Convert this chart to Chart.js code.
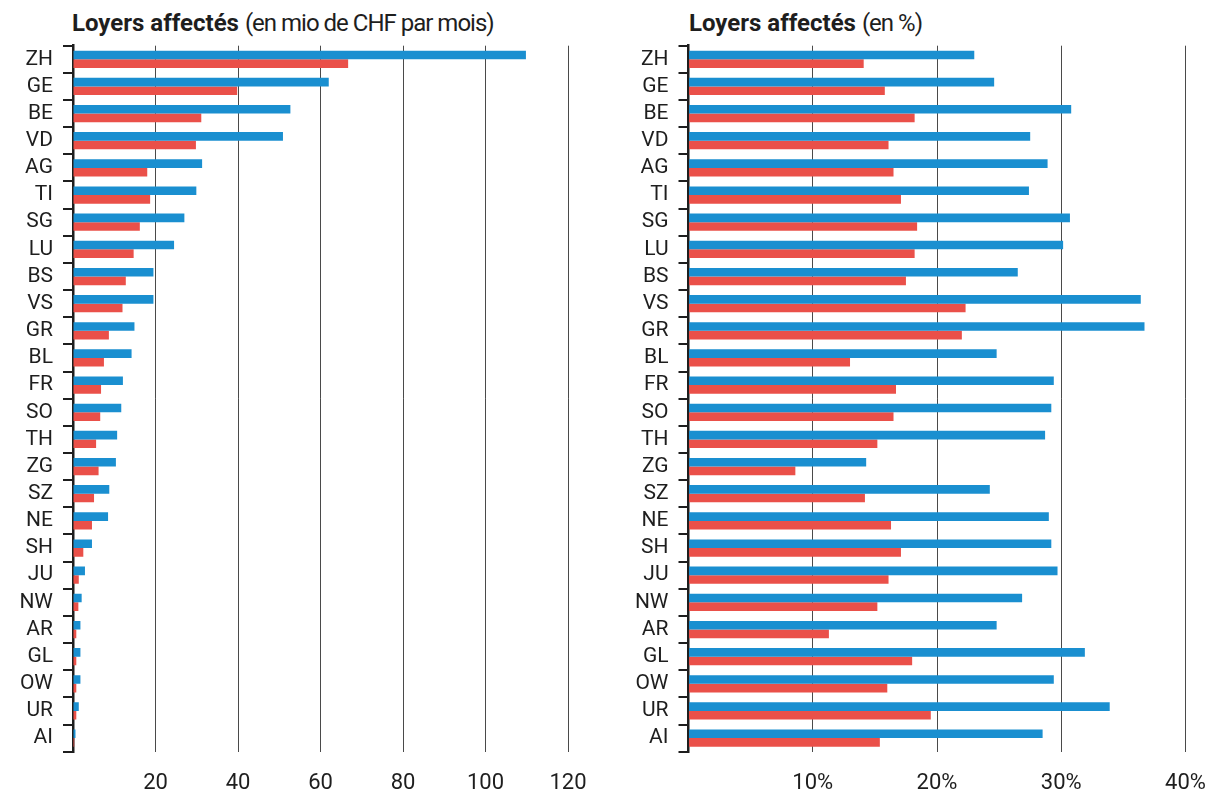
<!DOCTYPE html>
<html>
<head>
<meta charset="utf-8">
<script src="https://cdn.jsdelivr.net/npm/chart.js@4"></script>
<style>
  html, body { margin: 0; padding: 0; background: #fff; }
  body { width: 1213px; height: 791px; position: relative; overflow: hidden; font-family: Roboto, "Liberation Sans", sans-serif; color: #1e1e1e; }
  .title { position: absolute; top: 8px; font-size: 24px; white-space: nowrap; line-height: 30px; }
  .title b { font-weight: 700; letter-spacing: 0px; }
  .title span { font-weight: 400; letter-spacing: -1px; }
  canvas { position: absolute; top: 0; }
</style>
</head>
<body>
<div class="title" style="left:72px"><b>Loyers affectés</b> <span>(en mio de CHF par mois)</span></div>
<div class="title" style="left:689px"><b>Loyers affectés</b> <span>(en %)</span></div>
<canvas id="left" width="600" height="791" style="left:0px"></canvas>
<canvas id="right" width="607" height="791" style="left:606px"></canvas>
<script>
const cantons = ["ZH","GE","BE","VD","AG","TI","SG","LU","BS","VS","GR","BL","FR","SO","TH","ZG","SZ","NE","SH","JU","NW","AR","GL","OW","UR","AI"];

// Loyers affectés, en mio de CHF par mois
const mioBlue = [109.8, 62.0, 52.7, 50.9, 31.3, 29.9, 27.0, 24.5, 19.5, 19.5, 14.9, 14.2, 12.1, 11.7, 10.7, 10.4, 8.8, 8.5, 4.6, 2.9, 2.1, 1.8, 1.8, 1.8, 1.4, 0.6];
const mioRed  = [66.7, 39.8, 31.1, 29.8, 18.0, 18.7, 16.2, 14.7, 12.8, 12.0, 8.7, 7.5, 6.8, 6.6, 5.6, 6.2, 5.1, 4.6, 2.5, 1.4, 1.3, 0.8, 0.8, 0.8, 0.8, 0.3];

// Loyers affectés, en %
const pctBlue = [23.0, 24.6, 30.8, 27.5, 28.9, 27.4, 30.7, 30.15, 26.5, 36.4, 36.7, 24.8, 29.4, 29.2, 28.7, 14.3, 24.25, 29.0, 29.2, 29.7, 26.85, 24.8, 31.9, 29.4, 33.9, 28.5];
const pctRed  = [14.1, 15.8, 18.2, 16.1, 16.5, 17.1, 18.4, 18.2, 17.5, 22.3, 22.0, 13.0, 16.7, 16.5, 15.2, 8.6, 14.2, 16.3, 17.1, 16.1, 15.2, 11.3, 18.0, 16.0, 19.5, 15.4];

const mioTicks = { max: 120, step: 20, suffix: "" };
const pctTicks = { max: 40, step: 10, suffix: "%" };

const BLUE = "#1a8fd0";
const RED = "#ea5049";
const DARK = "#1e1e1e";

function makeChart(id, blue, red, tk, yWidth, padRight) {
  return new Chart(document.getElementById(id), {
    type: "bar",
    data: {
      labels: cantons,
      datasets: [
        { data: blue, backgroundColor: BLUE, borderWidth: 0 },
        { data: red, backgroundColor: RED, borderWidth: 0 }
      ]
    },
    options: {
      indexAxis: "y",
      responsive: false,
      animation: false,
      devicePixelRatio: 1,
      categoryPercentage: 0.635,
      barPercentage: 1,
      layout: { padding: { top: 45.7, right: padRight, bottom: 0, left: 0 } },
      plugins: { legend: { display: false }, tooltip: { enabled: false }, title: { display: false } },
      scales: {
        x: {
          type: "linear",
          min: 0,
          max: tk.max,
          border: { display: false },
          grid: { color: "#4a4a4a", lineWidth: 1, drawTicks: false },
          ticks: {
            stepSize: tk.step,
            autoSkip: false,
            maxRotation: 0,
            padding: 19,
            color: DARK,
            font: { family: "Roboto", size: 22 },
            callback: (v) => (v === 0 ? "" : v + tk.suffix)
          },
          afterFit: (s) => { s.height = 39.3; s.paddingLeft = 0; s.paddingRight = 0; }
        },
        y: {
          type: "category",
          border: { display: true, color: DARK, width: 2.5 },
          grid: { offset: true, drawOnChartArea: false, drawTicks: true, tickLength: 10, color: DARK, lineWidth: 2 },
          ticks: {
            padding: 10,
            color: DARK,
            autoSkip: false,
            font: { family: "Roboto", size: 21 }
          },
          afterFit: (s) => { s.width = yWidth; s.paddingTop = 0; s.paddingBottom = 0; }
        }
      }
    }
  });
}

makeChart("left", mioBlue, mioRed, mioTicks, 73, 32);
makeChart("right", pctBlue, pctRed, pctTicks, 82.5, 27.5);
</script>
</body>
</html>
